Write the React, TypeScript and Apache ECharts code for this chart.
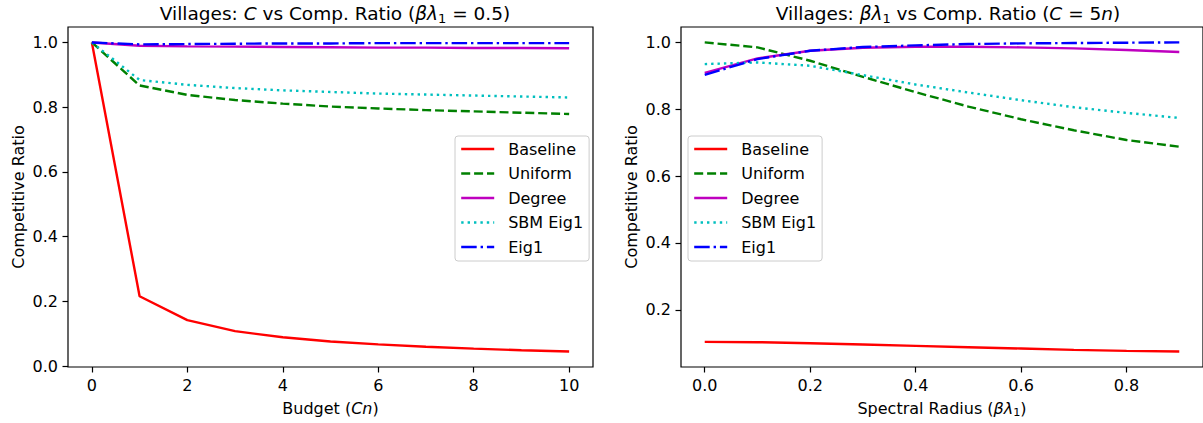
import React, { useEffect, useRef } from "react";
import * as echarts from "echarts";

const seriesNames = ["Baseline", "Uniform", "Degree", "SBM Eig1", "Eig1"];

// Left panel: budget C (in units of n)
const budgetX = [0, 1, 2, 3, 4, 5, 6, 7, 8, 9, 10];
const budgetTicks = [0, 2, 4, 6, 8, 10];
const leftYTicks = [0, 0.2, 0.4, 0.6, 0.8, 1.0];
const leftBaseline = [1.0, 0.216, 0.142, 0.108, 0.089, 0.076, 0.067, 0.06, 0.054, 0.049, 0.045];
const leftUniform = [1.0, 0.867, 0.838, 0.822, 0.811, 0.802, 0.796, 0.791, 0.787, 0.783, 0.779];
const leftDegree = [1.0, 0.99, 0.988, 0.987, 0.986, 0.985, 0.984, 0.984, 0.983, 0.983, 0.982];
const leftSbm = [1.0, 0.884, 0.869, 0.859, 0.852, 0.847, 0.842, 0.839, 0.836, 0.833, 0.83];
const leftEig1 = [1.0, 0.994, 0.995, 0.996, 0.997, 0.997, 0.998, 0.998, 0.998, 0.998, 0.998];

// Right panel: spectral radius
const radiusX = [0, 0.1, 0.2, 0.3, 0.4, 0.5, 0.6, 0.7, 0.8, 0.9];
const radiusTicks = [0, 0.2, 0.4, 0.6, 0.8];
const rightYTicks = [0.2, 0.4, 0.6, 0.8, 1.0];
const rightBaseline = [0.104, 0.103, 0.1, 0.096, 0.092, 0.088, 0.084, 0.08, 0.077, 0.075];
const rightUniform = [1.0, 0.985, 0.945, 0.897, 0.851, 0.808, 0.77, 0.737, 0.708, 0.688];
const rightDegree = [0.909, 0.952, 0.975, 0.984, 0.987, 0.987, 0.985, 0.982, 0.977, 0.971];
const rightSbm = [0.935, 0.94, 0.93, 0.902, 0.874, 0.85, 0.827, 0.806, 0.789, 0.774];
const rightEig1 = [0.903, 0.95, 0.975, 0.986, 0.991, 0.995, 0.997, 0.998, 0.999, 1.0];

const FONT = "DejaVu Sans";
const FS = 16;
const TFS = 18.5;
const LW = 2.4;
const styles = [
  { color: "#ff0000", type: "solid" as any },
  { color: "#008000", type: [9, 3.9] as any },
  { color: "#bf00bf", type: "solid" as any },
  { color: "#00bfbf", type: [2.4, 4] as any },
  { color: "#0000ff", type: [15.5, 3.9, 2.4, 3.9] as any },
];

const rich = {
  i: { fontStyle: "italic", fontFamily: FONT, fontSize: FS, color: "#000" },
  s: { fontSize: 11.2, fontFamily: FONT, lineHeight: 13, padding: [8, 0, 0, 0], color: "#000" },
};
const titleRich = {
  i: { fontStyle: "italic", fontFamily: FONT, fontSize: TFS, lineHeight: 22, color: "#000" },
  s: { fontSize: 13, fontFamily: FONT, lineHeight: 15, padding: [10, 0, 0, 0], color: "#000" },
};

function makeSeries(names: string[], xs: number[], ys: number[][], idx: number) {
  return names.map((n, k) => ({
    name: n,
    type: "line",
    xAxisIndex: idx,
    yAxisIndex: idx,
    data: xs.map((x, j) => [x, ys[k][j]]),
    symbol: "none",
    clip: false,
    z: 2 + k,
    lineStyle: { color: styles[k].color, width: LW, type: styles[k].type, cap: "butt" },
    itemStyle: { color: styles[k].color },
  }));
}

function xAxis(idx: number, min: number, max: number, ticks: number[], fmt: (v: number) => string, name: string) {
  return {
    gridIndex: idx,
    type: "value",
    min,
    max,
    axisLine: { show: false, onZero: false },
    splitLine: { show: false },
    axisTick: { show: true, customValues: ticks, length: 5.5, lineStyle: { color: "#000", width: 1.2 } },
    axisLabel: { customValues: ticks, formatter: fmt, margin: 10, color: "#000", fontSize: FS, fontFamily: FONT },
    name,
    nameLocation: "middle",
    nameGap: 32,
    nameTextStyle: { color: "#000", fontSize: FS, fontFamily: FONT, lineHeight: 19, rich },
  };
}

function yAxis(idx: number, min: number, max: number, ticks: number[]) {
  return {
    gridIndex: idx,
    type: "value",
    min,
    max,
    axisLine: { show: false, onZero: false },
    splitLine: { show: false },
    axisTick: { show: true, customValues: ticks, length: 5.5, lineStyle: { color: "#000", width: 1.2 } },
    axisLabel: { customValues: ticks, formatter: (v: number) => v.toFixed(1), margin: 10, color: "#000", fontSize: FS, fontFamily: FONT },
    name: "Competitive Ratio",
    nameLocation: "middle",
    nameGap: 42,
    nameTextStyle: { color: "#000", fontSize: FS, fontFamily: FONT },
  };
}

function legend(left: number) {
  return {
    data: seriesNames,
    orient: "vertical",
    left,
    top: 136,
    itemWidth: 33,
    itemHeight: 14,
    itemGap: 8.5,
    padding: [5, 6, 6, 5],
    backgroundColor: "rgba(255,255,255,0.8)",
    borderColor: "#cccccc",
    borderWidth: 1,
    borderRadius: 3,
    selectedMode: false,
    lineStyle: { width: LW },
    itemStyle: { opacity: 0 },
    formatter: (n: string) => `{t|${n}}`,
    textStyle: {
      color: "#000",
      fontSize: FS,
      fontFamily: FONT,
      lineHeight: 14,
      rich: { t: { color: "#000", fontSize: FS, fontFamily: FONT, lineHeight: 14, padding: [0, 0, 0, 9] } },
    },
  };
}

export default function App() {
  const ref = useRef<HTMLDivElement>(null);
  useEffect(() => {
    if (!ref.current) return;
    const chart = echarts.init(ref.current, null, { renderer: "svg" });
    chart.setOption({
      animation: false,
      backgroundColor: "#fff",
      title: [
        {
          text: "Villages: {i|C} vs Comp. Ratio ({i|βλ}{s|1} = 0.5)",
          left: 330,
          top: -3,
          textAlign: "center",
          textStyle: { fontSize: TFS, fontWeight: "normal", fontFamily: FONT, color: "#000", lineHeight: 22, rich: titleRich },
        },
        {
          text: "Villages: {i|βλ}{s|1} vs Comp. Ratio ({i|C} = 5{i|n})",
          left: 943,
          top: -3,
          textAlign: "center",
          textStyle: { fontSize: TFS, fontWeight: "normal", fontFamily: FONT, color: "#000", lineHeight: 22, rich: titleRich },
        },
      ],
      grid: [
        { left: 68, top: 27, width: 525, height: 340, show: true, borderColor: "#000", borderWidth: 1.2, backgroundColor: "transparent", containLabel: false },
        { left: 681, top: 27, width: 524, height: 340, show: true, borderColor: "#000", borderWidth: 1.2, backgroundColor: "transparent", containLabel: false },
      ],
      xAxis: [
        xAxis(0, -0.5, 10.5, budgetTicks, (v: number) => String(Math.round(v)), "Budget ({i|Cn})"),
        xAxis(1, -0.045, 0.945, radiusTicks, (v: number) => v.toFixed(1), "Spectral Radius ({i|βλ}{s|1})"),
      ],
      yAxis: [yAxis(0, -0.00275, 1.04775, leftYTicks), yAxis(1, 0.0288, 1.046, rightYTicks)],
      legend: [legend(455), legend(688)],
      series: [
        ...makeSeries(seriesNames, budgetX, [leftBaseline, leftUniform, leftDegree, leftSbm, leftEig1], 0),
        ...makeSeries(seriesNames, radiusX, [rightBaseline, rightUniform, rightDegree, rightSbm, rightEig1], 1),
      ],
    });
    return () => chart.dispose();
  }, []);
  return (
    <div
      ref={ref}
      style={{ position: "absolute", left: 0, top: 0, width: 1203, height: 423, background: "#fff" }}
    />
  );
}
